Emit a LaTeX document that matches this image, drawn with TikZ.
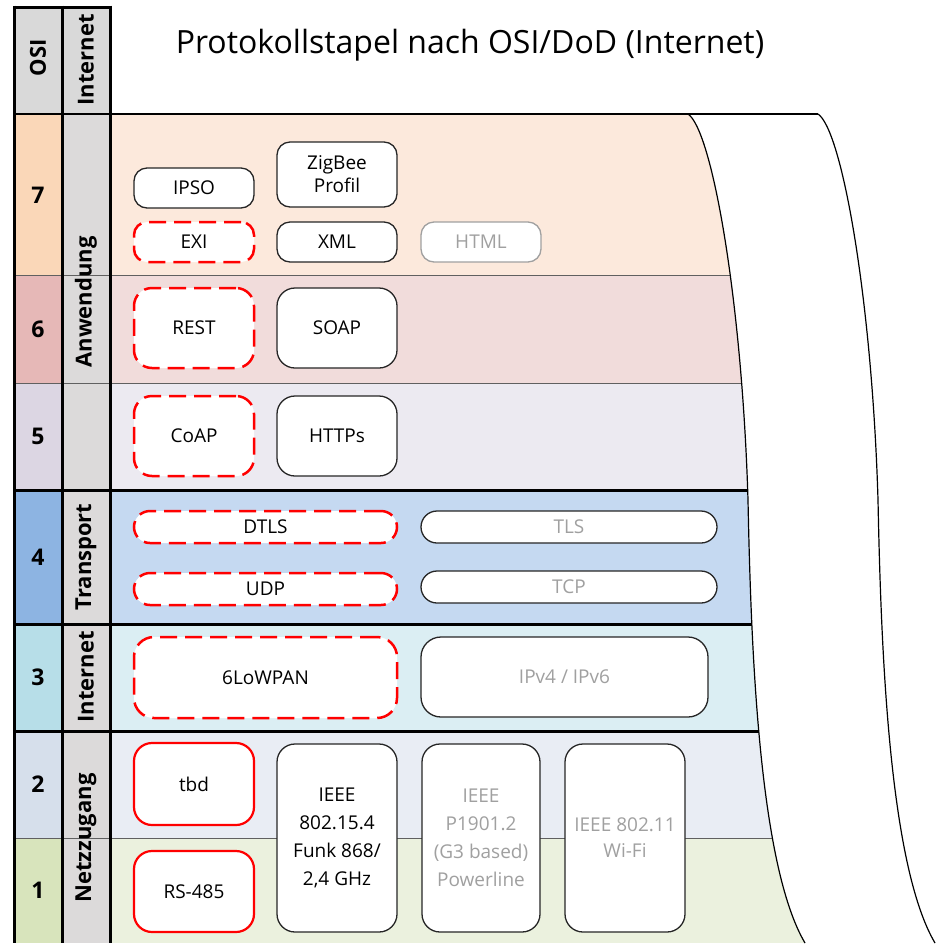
\documentclass[tikz,border=0pt]{standalone}
\usepackage{fontspec}
\setmainfont{Open Sans}
\definecolor{hdrgray}{HTML}{D9D9D9}
\definecolor{colgray}{HTML}{DCDADA}
\definecolor{osiA}{HTML}{FAD7B8}
\definecolor{osiB}{HTML}{E6B8B7}
\definecolor{osiC}{HTML}{DCD6E3}
\definecolor{osiD}{HTML}{8DB4E2}
\definecolor{osiE}{HTML}{B7DEE8}
\definecolor{osiF}{HTML}{D6DFEB}
\definecolor{osiG}{HTML}{D8E4BC}
\definecolor{layA}{HTML}{FCE9DC}
\definecolor{layB}{HTML}{F1DCDB}
\definecolor{layC}{HTML}{ECEAF1}
\definecolor{layD}{HTML}{C5D9F1}
\definecolor{layE}{HTML}{DBEEF3}
\definecolor{layF}{HTML}{E9EDF4}
\definecolor{layG}{HTML}{EBF1DE}
\definecolor{mutedtext}{HTML}{A0A0A0}
\definecolor{sepgray}{HTML}{606060}
\begin{document}
\begin{tikzpicture}[x=1pt,y=-1pt,
  boxfont/.style={font=\fontsize{19}{26}\selectfont},
  plainbox/.style={draw=black!85, line width=1.3pt, fill=white, inner sep=0pt,
    align=center, rounded corners=#1, boxfont},
  plainbox/.default=13,
  mutedbox/.style={plainbox=#1, text=mutedtext},
  mutedbox/.default=13,
  newbox/.style={plainbox=#1, draw=red, line width=2.5pt, dash pattern=on 17pt off 8pt},
  newbox/.default=13,
  plannedbox/.style={plainbox=#1, draw=red, line width=2.2pt},
  plannedbox/.default=18,
  layernum/.style={font=\fontsize{23}{23}\selectfont\bfseries},
  collabel/.style={font=\fontsize{22}{22}\selectfont\bfseries, rotate=90},
  thickrule/.style={line width=3pt, black},
  thinrule/.style={line width=1pt, sepgray},
  edgecurve/.style={line width=1.2pt, black}]
\useasboundingbox (0,0) rectangle (952,943);

% header cells
\fill[hdrgray] (14,7) rectangle (110,114);
\node[collabel] (hosi) at (38,58) {OSI};
\node[collabel] (hinet) at (86,60) {Internet};

% title
\node[font=\fontsize{32}{32}\selectfont, anchor=center] (title) at (470,45)
  {Protokollstapel nach OSI/DoD (Internet)};

% layer bands, cut by the curved right edge
\begin{scope}
\clip (14,114) -- (688,114) .. controls (712,130) and (742,300) .. (748,500)
  .. controls (751,650) and (759,865) .. (805,943) -- (14,943) -- cycle;
\foreach \top/\bot/\oc/\lc in {114/275/osiA/layA, 275/383/osiB/layB, 383/490/osiC/layC,
    490/624/osiD/layD, 624/731/osiE/layE, 731/838/osiF/layF, 838/943/osiG/layG} {
  \fill[\lc] (110,\top) rectangle (900,\bot);
  \fill[\oc] (14,\top) rectangle (62,\bot);
  \fill[colgray] (62,\top) rectangle (110,\bot);
}
\foreach \y in {275,383,838} \draw[thinrule] (14,\y) -- (900,\y);
\foreach \y in {490,624,731} \draw[thickrule] (14,\y) -- (900,\y);
\end{scope}

% curved edges of the stack
\draw[edgecurve] (688,114) .. controls (712,130) and (742,300) .. (748,500)
  .. controls (751,650) and (759,865) .. (805,943);
\draw[edgecurve] (818,114) .. controls (842,130) and (872,300) .. (878,500)
  .. controls (881,650) and (889,865) .. (935,943);

% frame and column rules
\draw[line width=2.5pt, black] (14,114) -- (818,114);
\draw[thickrule] (14,7) -- (110,7);
\draw[thickrule] (14,5.5) -- (14,943);
\draw[thickrule] (62,5.5) -- (62,943);
\draw[thickrule] (110,5.5) -- (110,943);

% layer numbers
\node[layernum] (n7) at (38,195) {7};
\node[layernum] (n6) at (38,329) {6};
\node[layernum] (n5) at (38,436) {5};
\node[layernum] (n4) at (38,557) {4};
\node[layernum] (n3) at (38,677) {3};
\node[layernum] (n2) at (38,784) {2};
\node[layernum] (n1) at (38,890) {1};

% internet model layers
\node[collabel] (lapp) at (86,302) {Anwendung};
\node[collabel] (ltrans) at (86,557) {Transport};
\node[collabel] (linet) at (86,677) {Internet};
\node[collabel] (lnet) at (86,838) {Netzzugang};

% layer 7
\node[plainbox, minimum width=120, minimum height=40] (ipso) at (194,188) {IPSO};
\node[newbox, minimum width=120, minimum height=40] (exi) at (194,242) {EXI};
\node[plainbox, minimum width=120, minimum height=65, font=\fontsize{19}{23}\selectfont] (zigbee) at (337,174.5) {ZigBee\\Profil};
\node[plainbox, minimum width=120, minimum height=40] (xml) at (337,242) {XML};
\node[mutedbox, draw=mutedtext, minimum width=120, minimum height=40] (html) at (481,242) {HTML};

% layer 6
\node[newbox=18, minimum width=120, minimum height=80] (rest) at (194,328) {REST};
\node[plainbox=18, minimum width=120, minimum height=80] (soap) at (337,328) {SOAP};

% layer 5
\node[newbox=18, minimum width=120, minimum height=80] (coap) at (194,436) {CoAP};
\node[plainbox=18, minimum width=120, minimum height=80] (https) at (337,436) {HTTPs};

% layer 4
\node[newbox=16, minimum width=263, minimum height=32] (dtls) at (265.5,527) {DTLS};
\node[newbox=16, minimum width=263, minimum height=32] (udp) at (265.5,589) {UDP};
\node[mutedbox=16, minimum width=296, minimum height=32] (tls) at (569,527) {TLS};
\node[mutedbox=16, minimum width=296, minimum height=32] (tcp) at (569,587) {TCP};

% layer 3
\node[newbox=20, minimum width=263, minimum height=81] (lowpan) at (265.5,677.5) {6LoWPAN};
\node[mutedbox=20, minimum width=287, minimum height=80] (ip) at (564.5,677) {IPv4 / IPv6};

% layers 2 and 1
\node[plannedbox, minimum width=120, minimum height=82] (tbd) at (194,784) {tbd};
\node[plannedbox, minimum width=120, minimum height=81] (rs) at (194,891.5) {RS-485};
\node[plainbox=18, minimum width=120, minimum height=188, font=\fontsize{19}{28}\selectfont] (ieee154) at (337,838) {IEEE\\802.15.4\\Funk 868/\\2,4 GHz};
\node[mutedbox=18, minimum width=118, minimum height=188, font=\fontsize{19}{28}\selectfont] (plc) at (481,838) {IEEE\\P1901.2\\(G3 based)\\Powerline};
\node[mutedbox=18, minimum width=120, minimum height=188, font=\fontsize{19}{26}\selectfont] (wifi) at (625,838) {IEEE 802.11\\Wi-Fi};
\end{tikzpicture}
\end{document}
